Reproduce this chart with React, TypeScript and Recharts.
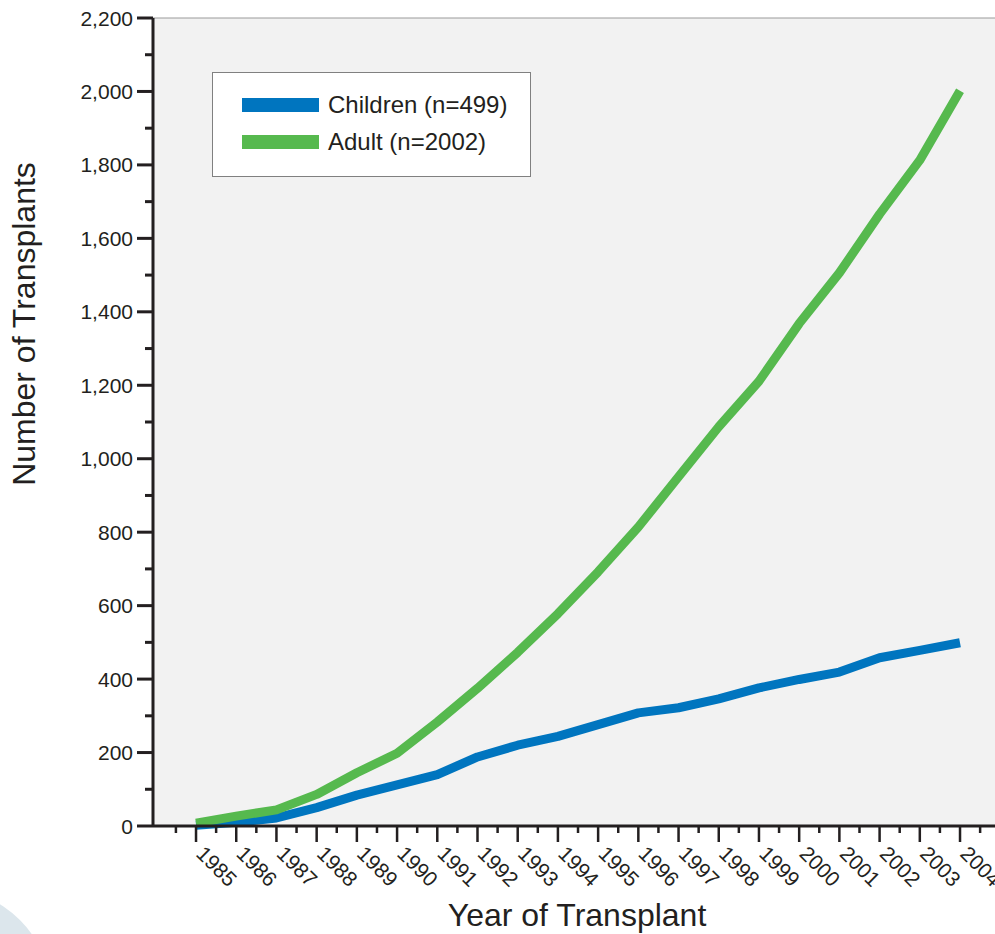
import { LineChart, Line, XAxis, YAxis, CartesianGrid, Legend, ReferenceLine } from "recharts";

const years = [1985, 1986, 1987, 1988, 1989, 1990, 1991, 1992, 1993, 1994, 1995, 1996, 1997, 1998, 1999, 2000, 2001, 2002, 2003, 2004];
const children = [2, 10, 22, 50, 84, 112, 140, 188, 220, 244, 276, 308, 322, 346, 376, 399, 419, 458, 478, 499];
const adult = [8, 27, 44, 86, 145, 198, 283, 375, 473, 578, 692, 814, 951, 1087, 1211, 1368, 1506, 1666, 1813, 2002];

const seriesNames = ["Children (n=499)", "Adult (n=2002)"];
const seriesColors = ["#0075bf", "#56b94e"];
const yMajorTicks = [0, 200, 400, 600, 800, 1000, 1200, 1400, 1600, 1800, 2000, 2200];

const data = years.map((year, i) => ({ year, children: children[i], adult: adult[i] }));

// minor ticks sit halfway between the labelled ones
const xTicks = [years[0] - 0.5, ...years.flatMap((y) => [y, y + 0.5])];
const yTicks = yMajorTicks.flatMap((v, i) => (i === 0 ? [v] : [v - 100, v]));

const font = '"Liberation Sans", Arial, Helvetica, sans-serif';
const ink = "#231f20";

function XTick({ x, y, payload }: any) {
  const v = payload.value;
  const major = Number.isInteger(v);
  const tx = x - 1;
  const ty = y + 29;
  return (
    <g>
      <line x1={x} x2={x} y1={y} y2={y + (major ? 16 : 7)} stroke={ink} strokeWidth={2.5} />
      {major && (
        <text x={tx} y={ty} transform={`rotate(45 ${tx} ${ty})`} fontSize={21} fontFamily={font} fill={ink}>
          {v}
        </text>
      )}
    </g>
  );
}

function YTick({ x, y, payload }: any) {
  const v = payload.value;
  const major = v % 200 === 0;
  return (
    <g>
      <line x1={x} x2={x - (major ? 16 : 8)} y1={y} y2={y} stroke={ink} strokeWidth={3} />
      {major && (
        <text x={x - 20} y={y} dy="0.36em" textAnchor="end" fontSize={21} fontFamily={font} fill={ink}>
          {v.toLocaleString("en-US")}
        </text>
      )}
    </g>
  );
}

function LegendBox() {
  return (
    <div
      style={{
        width: 319,
        height: 105,
        boxSizing: "border-box",
        border: "1.5px solid #808080",
        background: "#fff",
        position: "relative",
        fontFamily: font,
        fontSize: 24,
        color: ink,
      }}
    >
      {seriesNames.map((name, i) => (
        <div
          key={name}
          style={{ position: "absolute", left: 29, top: 25 + i * 37, height: 14, display: "flex", alignItems: "center", whiteSpace: "nowrap" }}
        >
          <div style={{ width: 77, height: 14, background: seriesColors[i] }} />
          <span style={{ marginLeft: 9, lineHeight: "14px" }}>{name}</span>
        </div>
      ))}
    </div>
  );
}

export default function App() {
  return (
    <div style={{ position: "absolute", left: 0, top: 0, width: 995, height: 934, overflow: "hidden", background: "#fff" }}>
      <div style={{ position: "absolute", left: -173, top: 887, width: 226, height: 226, borderRadius: "50%", background: "#dce6ec" }} />
      <div style={{ position: "absolute", left: 0, top: 0 }}>
        <LineChart width={995} height={934} data={data} margin={{ top: 18, right: 0, bottom: 0, left: 0 }}>
          <CartesianGrid fill="#f2f2f2" horizontal={false} vertical={false} />
          <ReferenceLine y={2200} stroke="#9a9a9a" strokeWidth={1} />
          <XAxis
            dataKey="year"
            type="number"
            domain={[1983.93, 2004.87]}
            allowDataOverflow
            ticks={xTicks}
            interval={0}
            height={108}
            tickSize={0}
            tickMargin={0}
            tickLine={false}
            axisLine={{ stroke: ink, strokeWidth: 3 }}
            tick={<XTick />}
            label={{
              content: () => (
                <text x={577} y={926} textAnchor="middle" fontSize={32} fontFamily={font} fill={ink}>
                  Year of Transplant
                </text>
              ),
            }}
          />
          <YAxis
            type="number"
            domain={[0, 2200]}
            ticks={yTicks}
            interval={0}
            width={153}
            tickSize={0}
            tickMargin={0}
            tickLine={false}
            axisLine={{ stroke: ink, strokeWidth: 3 }}
            tick={<YTick />}
            label={{
              content: () => (
                <text x={35} y={324} transform="rotate(-90 35 324)" textAnchor="middle" fontSize={32} fontFamily={font} fill={ink}>
                  Number of Transplants
                </text>
              ),
            }}
          />
          <Legend
            layout="vertical"
            align="center"
            verticalAlign="middle"
            content={<LegendBox />}
            wrapperStyle={{ left: 212, top: 72, width: 319, height: 105 }}
          />
          <Line
            dataKey="children"
            name={seriesNames[0]}
            type="linear"
            stroke={seriesColors[0]}
            strokeWidth={9}
            strokeLinecap="butt"
            strokeLinejoin="round"
            dot={false}
            activeDot={false}
            isAnimationActive={false}
          />
          <Line
            dataKey="adult"
            name={seriesNames[1]}
            type="linear"
            stroke={seriesColors[1]}
            strokeWidth={9}
            strokeLinecap="butt"
            strokeLinejoin="round"
            dot={false}
            activeDot={false}
            isAnimationActive={false}
          />
        </LineChart>
      </div>
    </div>
  );
}
